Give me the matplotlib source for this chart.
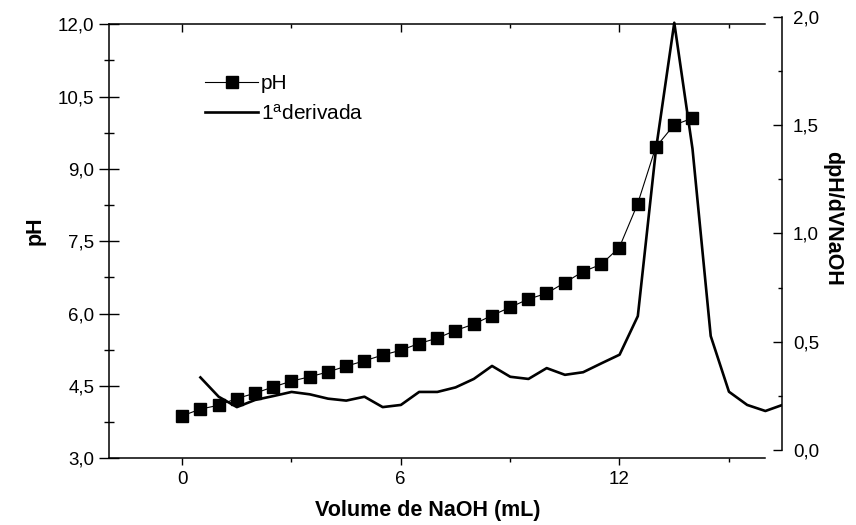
import matplotlib
matplotlib.use('Agg')
import matplotlib.pyplot as plt
from matplotlib.ticker import MultipleLocator, FuncFormatter


# Data

volume = [0.0, 0.5, 1.0, 1.5, 2.0, 2.5, 3.0, 3.5, 4.0, 4.5, 5.0, 5.5, 6.0, 6.5,
          7.0, 7.5, 8.0, 8.5, 9.0, 9.5, 10.0, 10.5, 11.0, 11.5, 12.0, 12.5,
          13.0, 13.5, 14.0]
ph = [3.88, 4.02, 4.10, 4.24, 4.35, 4.48, 4.60, 4.69, 4.79, 4.91, 5.02, 5.14,
      5.24, 5.38, 5.49, 5.65, 5.78, 5.96, 6.13, 6.30, 6.42, 6.64, 6.87, 7.02,
      7.37, 8.27, 9.45, 9.91, 10.05]

volume_d = [0.5, 1.0, 1.5, 2.0, 2.5, 3.0, 3.5, 4.0, 4.5, 5.0, 5.5, 6.0, 6.5,
            7.0, 7.5, 8.0, 8.5, 9.0, 9.5, 10.0, 10.5, 11.0, 11.5, 12.0, 12.5,
            13.0, 13.5, 14.0, 14.5, 15.0, 15.5, 16.0, 16.5]
derivada = [0.335, 0.246, 0.198, 0.231, 0.249, 0.268, 0.257, 0.237, 0.228,
            0.246, 0.198, 0.208, 0.268, 0.268, 0.289, 0.328, 0.388, 0.338,
            0.328, 0.378, 0.347, 0.359, 0.400, 0.440, 0.618, 1.39, 1.972,
            1.39, 0.526, 0.269, 0.208, 0.180, 0.21]

labels = ['pH', r'1$^{\mathrm{a}}$derivada']


# Style

plt.rcParams['font.family'] = ['Liberation Sans', 'DejaVu Sans']
plt.rcParams['mathtext.fontset'] = 'custom'
plt.rcParams['mathtext.rm'] = 'Liberation Sans'
plt.rcParams['mathtext.it'] = 'Liberation Sans:italic'
plt.rcParams['mathtext.bf'] = 'Liberation Sans:bold'

W, H = 856, 525
fig = plt.figure(figsize=(W / 100, H / 100), dpi=100)


def box(left, right, top, bottom):
    return [left / W, 1 - bottom / H, (right - left) / W, (bottom - top) / H]


comma = FuncFormatter(lambda v, pos: ('%.1f' % v).replace('.', ','))
tick_size = 13.5
label_size = 15.5
spine_w = 1.1

ax = fig.add_axes(box(109.3, 765, 24.3, 458.3))
ax2 = fig.add_axes(box(109.3, 781.7, 16.7, 450))
ax2.patch.set_visible(False)

p1 = ax.plot(volume, ph, color='black', lw=0.8, marker='s', ms=8.8)
p2 = ax2.plot(volume_d, derivada, color='black', lw=1.9)

# main axes (pH)
ax.set_xlim(-2, 16)
ax.set_ylim(3, 12)
ax.spines['right'].set_visible(False)
ax.spines['top'].set_visible(False)
for s in ['left', 'bottom']:
    ax.spines[s].set_linewidth(spine_w)

ax.xaxis.set_major_locator(MultipleLocator(6))
ax.xaxis.set_minor_locator(MultipleLocator(3))
ax.yaxis.set_major_locator(MultipleLocator(1.5))
ax.yaxis.set_minor_locator(MultipleLocator(0.75))
ax.yaxis.set_major_formatter(comma)

ax.tick_params(axis='y', which='major', direction='inout', length=14.4, width=1,
               pad=3.4, labelsize=tick_size)
ax.tick_params(axis='y', which='minor', direction='inout', length=7.2, width=1)
ax.tick_params(axis='x', which='major', direction='out', length=5, width=1,
               pad=4, labelsize=tick_size)
ax.tick_params(axis='x', which='minor', direction='out', length=3, width=1)

top = ax.secondary_xaxis('top')
top.spines['top'].set_linewidth(spine_w)
top.xaxis.set_major_locator(MultipleLocator(6))
top.xaxis.set_minor_locator(MultipleLocator(3))
top.tick_params(which='major', direction='in', length=6, width=1, labeltop=False)
top.tick_params(which='minor', direction='in', length=3, width=1)

ax.set_xlabel('Volume de NaOH (mL)', fontsize=label_size, fontweight='bold', va='center')
ax.xaxis.set_label_coords(0.486, -0.121)
ax.set_ylabel('pH', fontsize=label_size, fontweight='bold', va='center')
ax.yaxis.set_label_coords(-0.113, 0.524)

# derivative axes
ax2.set_xlim(-2, -2 + (781.7 - 109.3) / 36.45)
ax2.set_ylim(0, 2)
for s in ['left', 'top', 'bottom']:
    ax2.spines[s].set_visible(False)
ax2.spines['right'].set_linewidth(spine_w)
ax2.tick_params(axis='x', bottom=False, labelbottom=False)
ax2.yaxis.tick_right()
ax2.yaxis.set_label_position('right')
ax2.yaxis.set_major_locator(MultipleLocator(0.5))
ax2.yaxis.set_minor_locator(MultipleLocator(0.25))
ax2.yaxis.set_major_formatter(comma)
ax2.tick_params(axis='y', which='major', direction='in', length=6.5, width=1,
                pad=8.2, labelsize=tick_size)
ax2.tick_params(axis='y', which='minor', direction='in', length=3, width=1)
ax2.set_ylabel('dpH/dVNaOH', fontsize=label_size, fontweight='bold',
               rotation=270, va='center')
ax2.yaxis.set_label_coords(1.076, 0.535)

ax2.legend(p1 + p2, labels, loc='upper left', bbox_to_anchor=(205 / W, 1 - 74 / H),
           bbox_transform=fig.transFigure, frameon=False, fontsize=15,
           handlelength=2.55, handletextpad=0.12, labelspacing=0.5,
           borderpad=0, borderaxespad=0)

fig.savefig('out.png', dpi=100)
